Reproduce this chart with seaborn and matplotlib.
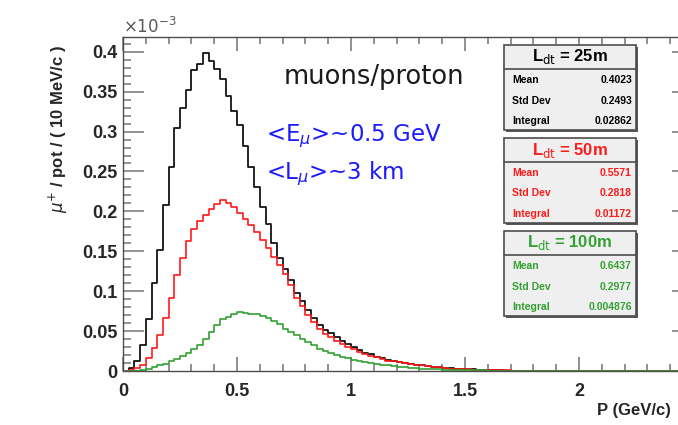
import numpy as np
import pandas as pd
import matplotlib
matplotlib.use('Agg')
import matplotlib.pyplot as plt
from matplotlib.patches import Rectangle
from matplotlib.ticker import MultipleLocator
import seaborn as sns

sns.set_theme(style='ticks')
plt.rcParams['font.family'] = ['Liberation Sans', 'DejaVu Sans']
plt.rcParams['mathtext.fontset'] = 'dejavusans'

# histogram contents, x10^-3 muons / pot / (10 MeV/c), read at 25 MeV steps
bin_width = 0.025
black_25m = [0.000, 0.004, 0.012, 0.033, 0.065, 0.110, 0.152, 0.208, 0.256, 0.305,
             0.330, 0.352, 0.377, 0.385, 0.398, 0.388, 0.378, 0.366, 0.345, 0.326,
             0.308, 0.282, 0.256, 0.231, 0.206, 0.184, 0.160, 0.142, 0.128, 0.114,
             0.098, 0.088, 0.076, 0.066, 0.058, 0.051, 0.047, 0.042, 0.038, 0.034,
             0.030, 0.026, 0.023, 0.021, 0.018, 0.016, 0.014, 0.012, 0.011, 0.010,
             0.009, 0.008, 0.007, 0.006, 0.005, 0.005, 0.004, 0.004, 0.003, 0.003,
             0.002, 0.002, 0.0015, 0.001, 0.001, 0.001, 0.0008, 0.0006, 0.0005, 0.0004,
             0.0003, 0.0002, 0.0, 0.0, 0.0, 0.0, 0.0, 0.0, 0.0, 0.0,
             0.0, 0.0, 0.0, 0.0, 0.0, 0.0, 0.0, 0.0, 0.0, 0.0,
             0.0, 0.0, 0.0, 0.0, 0.0, 0.0, 0.0, 0.0, 0.0, 0.0]
red_50m = [0.000, 0.001, 0.004, 0.008, 0.016, 0.029, 0.045, 0.066, 0.092, 0.120,
           0.142, 0.163, 0.178, 0.188, 0.196, 0.203, 0.209, 0.214, 0.211, 0.205,
           0.198, 0.191, 0.183, 0.174, 0.164, 0.154, 0.143, 0.133, 0.122, 0.108,
           0.092, 0.082, 0.070, 0.061, 0.052, 0.046, 0.042, 0.038, 0.034, 0.030,
           0.027, 0.024, 0.021, 0.019, 0.017, 0.015, 0.013, 0.012, 0.011, 0.010,
           0.009, 0.008, 0.007, 0.006, 0.005, 0.005, 0.004, 0.003, 0.003, 0.0025,
           0.002, 0.0018, 0.0015, 0.0012, 0.001, 0.001, 0.0008, 0.0007, 0.0006, 0.0005,
           0.0004, 0.0003, 0.0, 0.0, 0.0, 0.0, 0.0, 0.0, 0.0, 0.0,
           0.0, 0.0, 0.0, 0.0, 0.0, 0.0, 0.0, 0.0, 0.0, 0.0,
           0.0, 0.0, 0.0, 0.0, 0.0, 0.0, 0.0, 0.0, 0.0, 0.0]
green_100m = [0.000, 0.000, 0.0005, 0.001, 0.003, 0.005, 0.007, 0.009, 0.012, 0.015,
              0.019, 0.023, 0.028, 0.033, 0.040, 0.049, 0.058, 0.065, 0.068, 0.071,
              0.074, 0.073, 0.071, 0.072, 0.069, 0.066, 0.063, 0.059, 0.053, 0.049,
              0.045, 0.040, 0.036, 0.032, 0.028, 0.025, 0.022, 0.020, 0.018, 0.016,
              0.014, 0.013, 0.011, 0.010, 0.009, 0.008, 0.007, 0.006, 0.005, 0.0045,
              0.004, 0.0035, 0.003, 0.0025, 0.002, 0.002, 0.0015, 0.0015, 0.0012, 0.001,
              0.001, 0.0009, 0.0008, 0.0007, 0.0006, 0.0005, 0.0005, 0.0004, 0.0003, 0.0003,
              0.0002, 0.0002, 0.0, 0.0, 0.0, 0.0, 0.0, 0.0, 0.0, 0.0,
              0.0, 0.0, 0.0, 0.0, 0.0, 0.0, 0.0, 0.0, 0.0, 0.0,
              0.0, 0.0, 0.0, 0.0, 0.0, 0.0, 0.0, 0.0, 0.0, 0.0]

series = ['25m', '50m', '100m']
colors = ['black', '#ff1a1a', '#33a033']
stats_mean = ['0.4023', '0.5571', '0.6437']
stats_std = ['0.2493', '0.2818', '0.2977']
stats_integral = ['0.02862', '0.01172', '0.004876']

centers = (np.arange(len(black_25m)) + 0.5) * bin_width
frames = []
for name, vals in zip(series, [black_25m, red_50m, green_100m]):
    frames.append(pd.DataFrame({'P': centers, 'y': vals, 'L': name}))
df = pd.concat(frames, ignore_index=True)

W, H = 678, 425
fig = plt.figure(figsize=(W / 100, H / 100), dpi=100)
fig.patch.set_facecolor('white')
ax = fig.add_axes([123 / W, 1 - 371 / H, 570 / W, 334 / H])

sns.lineplot(data=df, x='P', y='y', hue='L', hue_order=series, palette=colors,
             drawstyle='steps-mid', estimator=None, linewidth=1.2, legend=False, ax=ax)

ax.set_xlim(0, 2.5)
ax.set_ylim(0, 0.4185)
ax.xaxis.set_major_locator(MultipleLocator(0.5))
ax.xaxis.set_minor_locator(MultipleLocator(0.1))
ax.yaxis.set_major_locator(MultipleLocator(0.05))
ax.yaxis.set_minor_locator(MultipleLocator(0.01))
ax.xaxis.set_major_formatter(matplotlib.ticker.FuncFormatter(lambda v, p: f'{v:g}'))
ax.yaxis.set_major_formatter(matplotlib.ticker.FuncFormatter(lambda v, p: f'{v:g}'))
ax.tick_params(which='both', direction='in', top=True, right=True, color='0.45',
               labelsize=13, width=1.1)
ax.tick_params(axis='y', which='major', length=15, pad=4)
ax.tick_params(axis='y', which='minor', length=6)
ax.tick_params(axis='x', which='major', length=10, pad=9)
ax.tick_params(axis='x', which='minor', length=5)
for lab in ax.get_xticklabels() + ax.get_yticklabels():
    lab.set_fontweight('bold')
for sp in ax.spines.values():
    sp.set_color('0.3')
    sp.set_linewidth(1.0)
ax.set_xlabel('')
ax.set_ylabel('')

ax.text(0.0, 1.004, r'$\times10^{-3}$', transform=ax.transAxes, ha='left', va='bottom',
        fontsize=12, color='0.35')
fig.text(58 / W, 1 - 45 / H, r'$\mu^{+}$ / pot / ( 10 MeV/c )', rotation=90,
         ha='center', va='top', fontsize=12, fontweight='bold', color='0.15')
fig.text(597 / W, 1 - 411 / H, 'P (GeV/c)', ha='left', va='center', fontsize=12,
         fontweight='bold', color='0.15')

fig.text(374 / W, 1 - 77 / H, 'muons/proton', ha='center', va='center',
         fontsize=18.5, family='DejaVu Sans', color='0.1')
fig.text(266 / W, 1 - 136 / H, r'<E$_{\mu}$>~0.5 GeV', ha='left', va='center',
         fontsize=16.5, family='DejaVu Sans', color='#1a1aff')
fig.text(266 / W, 1 - 174 / H, r'<L$_{\mu}$>~3 km', ha='left', va='center',
         fontsize=16.5, family='DejaVu Sans', color='#1a1aff')

# stat boxes
box_tops = [45, 138, 231]
bx0, bx1, bh = 504, 636, 85
for top, name, col, m, s, itg in zip(box_tops, series, colors, stats_mean,
                                      stats_std, stats_integral):
    fig.patches.append(Rectangle(((bx0 + 2) / W, 1 - (top + bh + 2) / H), (bx1 - bx0) / W,
                                 bh / H, transform=fig.transFigure, facecolor='0.35',
                                 edgecolor='none', zorder=5))
    fig.patches.append(Rectangle((bx0 / W, 1 - (top + bh) / H), (bx1 - bx0) / W, bh / H,
                                 transform=fig.transFigure, facecolor='#efefef',
                                 edgecolor='0.3', linewidth=1.2, zorder=6))
    fig.lines.append(plt.Line2D([bx0 / W, bx1 / W], [1 - (top + 24) / H] * 2,
                                transform=fig.transFigure, color='0.3', linewidth=1.2,
                                zorder=7))
    fig.text((bx0 + bx1) / 2 / W, 1 - (top + 12) / H, r'L$_{\rm dt}$ = ' + name,
             ha='center', va='center', fontsize=12, fontweight='bold', color=col, zorder=8)
    for k, (lab, val) in enumerate(zip(['Mean', 'Std Dev', 'Integral'], [m, s, itg])):
        yy = 1 - (top + 35 + 20.5 * k) / H
        fig.text((bx0 + 8) / W, yy, lab, ha='left', va='center', fontsize=7.5,
                 fontweight='bold', color=col, zorder=8)
        fig.text((bx1 - 4) / W, yy, val, ha='right', va='center', fontsize=7.5,
                 fontweight='bold', color=col, zorder=8)

fig.savefig('out.png', dpi=100)
